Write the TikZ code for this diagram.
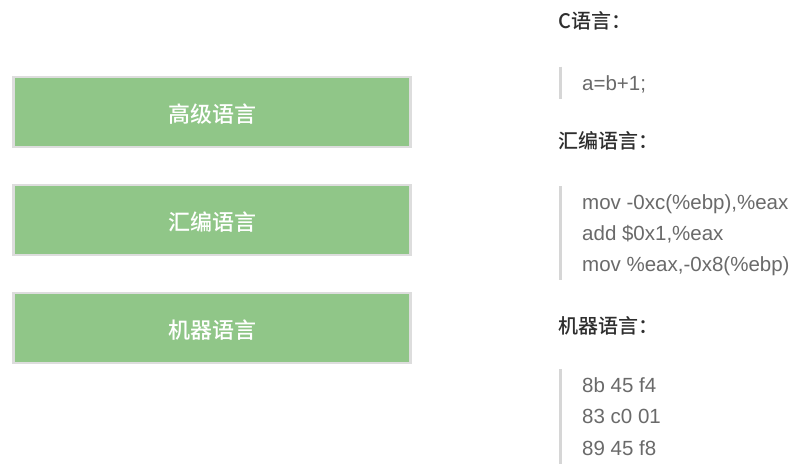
\documentclass[tikz,border=0pt]{standalone}
\usepackage{fontspec}
\setmainfont{Liberation Sans}
\newfontfamily\cjk{Noto Sans CJK SC}[UprightFont=* Medium]
\definecolor{boxgreen}{HTML}{90C688}
\definecolor{boxline}{HTML}{DDDDDD}
\definecolor{headtext}{HTML}{2E2E2E}
\definecolor{codetext}{HTML}{6A6A6A}
\definecolor{barline}{HTML}{D6D6D6}
\begin{document}
\begin{tikzpicture}[x=1pt,y=-1pt,
  langbox/.style={draw=boxline,line width=2.5pt,fill=boxgreen,minimum width=397pt,minimum height=70pt,inner sep=0pt},
  boxtext/.style={text=white,font=\cjk\fontsize{22}{26}\selectfont},
  heading/.style={anchor=base west,inner sep=0pt,text=headtext,font=\cjk\fontsize{20}{24}\selectfont},
  codeline/.style={anchor=base west,inner sep=0pt,text=codetext,font=\fontsize{20.5}{24}\selectfont},
  quotebar/.style={draw=barline,line width=3pt}]
\useasboundingbox (0,0) rectangle (803,471);
\fill[white] (0,0) rectangle (803,471);
% left boxes
\node[langbox] (b1) at (212,112) {};
\node[langbox] (b2) at (212,220) {};
\node[langbox] (b3) at (212,328) {};
\node[boxtext] (t1) at (212,114) {高级语言};
\node[boxtext] (t2) at (212,222) {汇编语言};
\node[boxtext] (t3) at (212,330) {机器语言};
% right side
\node[heading] (h1) at (558,28) {C语言：};
\coordinate (q1a) at (560,66.5);
\coordinate (q1b) at (560,98.5);
\draw[quotebar] (q1a) -- (q1b);
\node[codeline] (c1) at (582,90.5) {a=b+1;};

\node[heading] (h2) at (558,148) {汇编语言：};
\coordinate (q2a) at (560,186);
\coordinate (q2b) at (560,280);
\draw[quotebar] (q2a) -- (q2b);
\node[codeline] (c2) at (582,209) {mov -0xc(\%ebp),\%eax};
\node[codeline] (c3) at (582,240) {add \$0x1,\%eax};
\node[codeline] (c4) at (582,271) {mov \%eax,-0x8(\%ebp)};

\node[heading] (h3) at (558,333) {机器语言：};
\coordinate (q3a) at (560,369);
\coordinate (q3b) at (560,464);
\draw[quotebar] (q3a) -- (q3b);
\node[codeline] (c5) at (582,392) {8b 45 f4};
\node[codeline] (c6) at (582,423) {83 c0 01};
\node[codeline] (c7) at (582,455) {89 45 f8};
\end{tikzpicture}
\end{document}
